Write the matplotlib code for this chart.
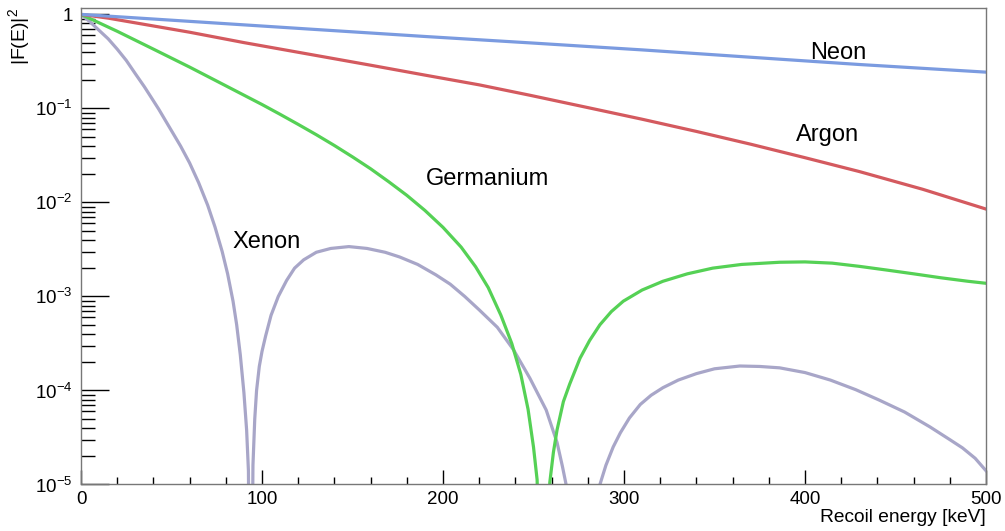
"""
Helm form factor |F(E)|^2 vs recoil energy for Ne, Ar, Ge, Xe
values read off the reference plot
"""

import numpy as np
import matplotlib
matplotlib.use('Agg')
import matplotlib.pyplot as plt
from matplotlib.ticker import FixedLocator, FuncFormatter, LogLocator, NullFormatter

# recoil energy [keV] / |F|^2 pairs for each target
# (1e-8 entries mark the zeros of the form factor, below the axis)
neon_e = [0, 60, 125, 190, 250, 310, 370, 430, 500]
neon_f = [1.0, 0.843, 0.70, 0.582, 0.495, 0.419, 0.350, 0.293, 0.243]

argon_e = [0, 15, 30, 60, 90, 125, 160, 190, 220, 248, 280, 310, 340, 370, 400, 430, 465, 500]
argon_f = [1.0, 0.912, 0.813, 0.646, 0.501, 0.380, 0.288, 0.226, 0.178, 0.138, 0.102,
           0.0767, 0.0569, 0.0416, 0.0299, 0.0213, 0.0138, 0.0085]

germanium_e = [0, 20, 40, 60, 80, 100, 110, 120, 130, 140, 150, 160, 170, 180, 190, 200,
               210, 218, 225, 232, 238, 243, 247, 250, 252,
               255.5,
               259, 261, 263, 266.5, 270, 275.7, 281, 286.7, 293, 299.6, 310, 321.5, 335,
               349, 365, 386, 400, 415, 430, 445, 460, 475, 490, 500]
germanium_f = [1.0, 0.661, 0.427, 0.275, 0.174, 0.110, 0.0865, 0.0676, 0.0525, 0.0403,
               0.0305, 0.0228, 0.0166, 0.0119, 0.00822, 0.00543, 0.00335, 0.00207, 0.00124,
               6.3e-4, 3.16e-4, 1.48e-4, 6.3e-5, 2.5e-5, 1.12e-5,
               1e-8,
               1.05e-5, 2.2e-5, 3.8e-5, 7.6e-5, 1.17e-4, 2.2e-4, 3.4e-4, 5.0e-4, 6.9e-4,
               8.9e-4, 1.17e-3, 1.45e-3, 1.74e-3, 2.0e-3, 2.19e-3, 2.31e-3, 2.33e-3,
               2.26e-3, 2.09e-3, 1.91e-3, 1.74e-3, 1.58e-3, 1.45e-3, 1.38e-3]

xenon_e = [0, 5, 10, 15, 20, 25, 30, 35, 39, 43, 47, 51, 55, 60, 65, 70, 74, 78, 81, 84,
           86, 88, 90, 91.5, 92.5,
           93.7,
           95, 96, 97, 98.5, 100, 102, 105, 109, 113.6, 118, 123, 130, 138, 148, 158, 168,
           176, 186, 196, 204, 212, 220, 230, 239, 248, 257, 263, 266, 268,
           277,
           286.7, 290, 294, 298, 303, 309, 315, 321.5, 330, 340, 350, 364, 375, 386, 400,
           414, 428, 441, 455, 469, 480, 487, 494, 500]
xenon_f = [1.0, 0.832, 0.676, 0.550, 0.427, 0.324, 0.234, 0.170, 0.129, 0.0977, 0.0724,
           0.0537, 0.0398, 0.0263, 0.0162, 0.00933, 0.0055, 0.0030, 0.00174, 8.9e-4,
           5.0e-4, 2.4e-4, 9.5e-5, 3.8e-5, 1.4e-5,
           1e-8,
           1.6e-5, 5.0e-5, 1.0e-4, 1.8e-4, 2.6e-4, 3.8e-4, 6.3e-4, 1.0e-3, 1.48e-3,
           2.0e-3, 2.45e-3, 2.95e-3, 3.24e-3, 3.39e-3, 3.24e-3, 2.95e-3, 2.63e-3,
           2.19e-3, 1.70e-3, 1.35e-3, 1.0e-3, 7.2e-4, 4.7e-4, 2.7e-4, 1.35e-4, 6.2e-5,
           2.8e-5, 1.55e-5, 1.0e-5,
           1e-8,
           1.0e-5, 1.6e-5, 2.5e-5, 3.55e-5, 5.1e-5, 7.1e-5, 8.9e-5, 1.07e-4, 1.29e-4,
           1.51e-4, 1.70e-4, 1.82e-4, 1.80e-4, 1.74e-4, 1.55e-4, 1.29e-4, 1.02e-4,
           7.9e-5, 5.9e-5, 4.1e-5, 3.0e-5, 2.45e-5, 1.9e-5, 1.4e-5]

labels = ['Neon', 'Argon', 'Germanium', 'Xenon']
label_pos = [(403, 0.39), (395, 0.052), (190.5, 0.0178), (83.5, 0.0038)]
colors = ['#7b9be0', '#d45a5f', '#55d155', '#a8a6c8']

plt.rcParams['font.family'] = ['Liberation Sans', 'DejaVu Sans']
plt.rcParams['mathtext.fontset'] = 'custom'
plt.rcParams['mathtext.rm'] = 'Liberation Sans'
plt.rcParams['mathtext.it'] = 'Liberation Sans:italic'


def y_label_fmt(v, pos):
    if abs(v - 1) < 1e-9:
        return '1'
    return r'$10^{%d}$' % int(round(np.log10(v)))


def main():
    fig = plt.figure(figsize=(10.05, 5.31), dpi=100)
    ax = fig.add_axes([0.0806, 0.0876, 0.9005, 0.8974])

    series = [(neon_e, neon_f), (argon_e, argon_f),
              (germanium_e, germanium_f), (xenon_e, xenon_f)]
    # draw xenon first so neon ends up on top
    for (e, f), c in zip(series[::-1], colors[::-1]):
        ax.plot(e, f, color=c, linewidth=2.3, clip_on=True)

    for name, (x, y) in zip(labels, label_pos):
        ax.text(x, y, name, fontsize=17, ha='left', va='center')

    ax.set_yscale('log')
    ax.set_xlim(0, 500)
    ax.set_ylim(1e-5, 1.17)

    # ticks: ROOT style, inward, only bottom / left
    ax.xaxis.set_major_locator(FixedLocator([0, 100, 200, 300, 400, 500]))
    ax.xaxis.set_minor_locator(FixedLocator(np.arange(0, 501, 20)))
    ax.yaxis.set_major_locator(FixedLocator([1e-5, 1e-4, 1e-3, 1e-2, 1e-1, 1]))
    ax.yaxis.set_minor_locator(LogLocator(base=10, subs=np.arange(2, 10), numticks=20))
    ax.yaxis.set_major_formatter(FuncFormatter(y_label_fmt))
    ax.yaxis.set_minor_formatter(NullFormatter())
    ax.tick_params(axis='x', which='major', direction='in', length=10, width=1, labelsize=13.5, pad=5)
    ax.tick_params(axis='x', which='minor', direction='in', length=5, width=1)
    ax.tick_params(axis='y', which='major', direction='in', length=20, width=1, labelsize=13.5, pad=6)
    ax.tick_params(axis='y', which='minor', direction='in', length=10, width=1)
    ax.tick_params(top=False, right=False, which='both')

    for s in ax.spines.values():
        s.set_color('#777777')
        s.set_linewidth(1)

    fig.text(0.981, 0.026, 'Recoil energy [keV]', fontsize=13.8, ha='right', va='center')
    fig.text(0.019, 0.985, r'|F(E)|$^2$', fontsize=14, rotation=90, ha='center', va='top')

    fig.savefig('out.png', dpi=100)
    plt.close(fig)


if __name__ == '__main__':
    main()
